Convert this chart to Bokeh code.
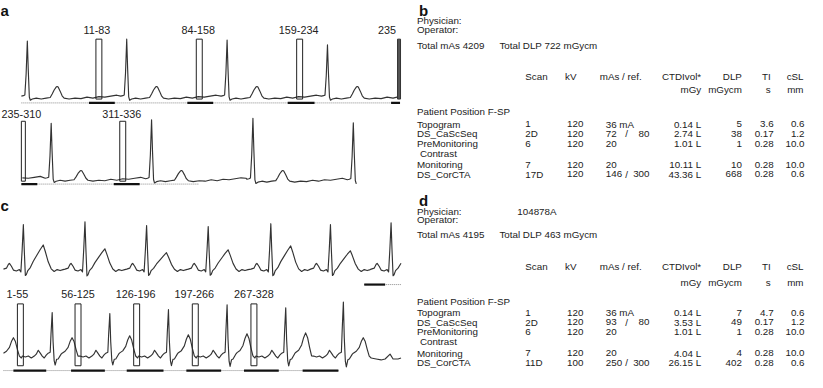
from bokeh.plotting import figure
from bokeh.models import Range1d
from bokeh.core.properties import value
from bokeh.embed import file_html
from bokeh.resources import INLINE

# ------------------------------------------------------------------
# DATA
# ------------------------------------------------------------------
# ECG strips: R-peak times (px along strip), R / T amplitudes (px)
# (a) upper strip
a1_r_x = [27, 127, 228, 329]
a1_r_amp = [58, 60, 59, 54]
a1_t_amp = [12, 12, 12, 12]
a1_base = [100, 100, 100, 100]
# (a) lower strip (first entry = preceding beat, only its tail visible)
a2_r_x = [-50, 51, 152, 254, 355]
a2_r_amp = [58, 58, 62, 64, 60]
a2_t_amp = [10, 10, 10.5, 11, 10]
a2_base = [184, 185, 185.5, 186, 186.5]
# (c) upper strip
c1_r_x = [23, 85, 147, 209, 272, 332, 393]
c1_r_amp = [47, 50, 46, 45, 48, 47, 49]
c1_t_amp = [26, 22, 18, 21, 25, 20, 20]
c1_base = [279, 279, 279, 279, 279, 279, 279]
# (c) lower strip (first entry = preceding beat, only its T wave visible)
c2_r_x = [-7, 52, 110, 169, 228, 287, 345]
c2_r_amp = [46, 46, 45, 49, 54, 51, 57]
c2_t_amp = [20, 20, 22, 23, 24, 25, 20]
c2_base = [369, 369, 369, 369, 369, 369, 369]

# beat templates: offset from R, R-fraction, T-fraction, baseline wiggle (px)
tA_dx = [-6, -4, -2.5, -1.2, 0, 0.9, 2, 3, 5, 9, 14, 19, 23, 25, 27, 29, 30, 31, 33, 35, 37, 42, 48, 54, 60, 66, 72, 78, 84, 90, 95]
tA_r = [0, 0, 0.02, 0.4, 1, 0.5, 0.02, -0.03, 0, 0, 0, 0, 0, 0, 0, 0, 0, 0, 0, 0, 0, 0, 0, 0, 0, 0, 0, 0, 0, 0, 0]
tA_t = [0, 0, 0, 0, 0, 0, 0, 0, 0, 0, 0, 0, 0.05, 0.35, 0.7, 0.95, 1, 0.95, 0.6, 0.2, 0, 0, 0, 0, 0, 0, 0, 0, 0, 0, 0]
tA_b = [1, 1.5, 1, 1, 0, 0, -1, -1.5, -2, -1, -2, -1, -1, -1, -1, -1, -1, -1, -1, -1, -1, -2, -1, -1.5, 0, -1, 0.5, 0, 1, 2, 1.5]

tC1_dx = [-20, -17, -15, -14, -12, -10, -7, -4, -2.5, -1.2, 0, 0.9, 2, 3, 4.5, 7, 10, 14, 17, 20, 22, 25, 28, 31, 34, 37, 40]
tC1_r = [0, 0, 0, 0, 0, 0, 0, 0, -0.04, 0.45, 1, 0.45, -0.12, -0.1, 0, 0, 0, 0, 0, 0, 0, 0, 0, 0, 0, 0, 0]
tC1_t = [0, 0, 0, 0, 0, 0, 0, 0, 0, 0, 0, 0, 0, 0, 0.02, 0.1, 0.35, 0.62, 0.82, 1, 0.75, 0.33, 0.05, 0, 0, 0, 0]
tC1_b = [1, 2, 6, 7, 4, 0, -1, 0.5, 0, 0, 0, 0, 0, 0, -1, 0, 0, 0, 0, 0, 0, 0, 0, -1.5, 0.5, -0.5, 0.5]

tC2_dx = [-30, -27, -24, -21, -18, -16, -14, -12, -10, -8, -6, -4, -2, -1.2, 0, 0.9, 2, 3, 4.5, 6, 9, 10, 13, 16, 18, 20, 22, 24, 26, 28, 33, 38, 42, 47, 50, 55, 58]
tC2_r = [0, 0, 0, 0, 0, 0, 0, 0, 0, 0, 0, 0, 0, 0.4, 1, 0.35, -0.08, -0.18, -0.05, 0, 0, 0, 0, 0, 0, 0, 0, 0, 0, 0, 0, 0, 0, 0, 0, 0, 0]
tC2_t = [0, 0, 0, 0, 0, 0, 0, 0, 0, 0, 0, 0, 0, 0, 0, 0, 0, 0, 0, 0, 0.1, 0.15, 0.2, 0.5, 0.8, 1, 0.8, 0.4, 0.05, 0, 0, 0, 0, 0, 0, 0, 0]
tC2_b = [1, 0, 1, -1, 1, 3, 7, 4, 1, -1, 2, 4, 5, 5, 0, 0, 0, 0, 0, -2, 1, 1, 2, 0, 0, 0, 0, 0, 0, -1, -2, -3, -2, 3, -2, -2, -1]

# acquisition windows (label, window centre, highlighted bar start/end)
a1_win_label = ["11-83", "84-158", "159-234", "235"]
a1_win_x = [99, 200, 301, 401]
a1_bar_start = [89, 188, 289, 393]
a1_bar_end = [115, 214, 316, 402]
a2_win_label = ["235-310", "311-336"]
a2_win_x = [23, 123]
a2_bar_start = [21, 114]
a2_bar_end = [37, 140]
c1_bar_start = [366]
c1_bar_end = [387]
c2_win_label = ["1-55", "56-125", "126-196", "197-266", "267-328"]
c2_win_x = [20, 78, 137, 196, 255]
c2_bar_start = [13, 71, 127, 187, 245, 304]
c2_bar_end = [46, 105, 164, 222, 280, 340]

# dose reports
row_names = ["Topogram", "DS_CaScSeq", "PreMonitoring", "Monitoring", "DS_CorCTA"]
b_physician = ""
b_total_mas = 4209
b_total_dlp = 722
b_scan = ["1", "2D", "6", "7", "17D"]
b_kv = [120, 120, 120, 120, 120]
b_mas = ["36 mA", "72", "20", "20", "146"]
b_ref = ["", "80", "", "", "300"]
b_ctdi = ["0.14", "2.74", "1.01", "10.11", "43.36"]
b_dlp = [5, 38, 1, 10, 668]
b_ti = ["3.6", "0.17", "0.28", "0.28", "0.28"]
b_csl = ["0.6", "1.2", "10.0", "10.0", "0.6"]

d_physician = "104878A"
d_total_mas = 4195
d_total_dlp = 463
d_scan = ["1", "2D", "6", "7", "11D"]
d_kv = [120, 120, 120, 120, 100]
d_mas = ["36 mA", "93", "20", "20", "250"]
d_ref = ["", "80", "", "", "300"]
d_ctdi = ["0.14", "3.53", "1.01", "4.04", "26.15"]
d_dlp = [7, 49, 1, 4, 402]
d_ti = ["4.7", "0.17", "0.28", "0.28", "0.28"]
d_csl = ["0.6", "1.2", "10.0", "10.0", "0.6"]

# ------------------------------------------------------------------
# FIGURE
# ------------------------------------------------------------------
p = figure(width=807, height=372, x_range=Range1d(0, 812), y_range=Range1d(385, 0),
           output_backend="svg", toolbar_location=None,
           x_axis_type=None, y_axis_type=None, min_border=0)
p.grid.visible = False
p.outline_line_color = None
p.background_fill_color = "white"
p.border_fill_color = "white"

FONT = value("Liberation Sans")
TXT = "#222222"
LINE = "#333333"


def add_text(xs, ys, texts, align="left", size="9.8px", style="normal", color=TXT, baseline="middle"):
    p.text(x=list(xs), y=list(ys), text=list(texts), text_font=FONT,
           text_font_size=value(size), text_font_style=style, text_align=align,
           text_baseline=baseline, text_color=color)


def build_trace(r_x, r_amp, t_amp, base, tmpl, x_start, x_end):
    dx, rr, tt, bb = tmpl
    xs, ys = [], []
    for i, r in enumerate(r_x):
        limit = r_x[i + 1] + dx[0] if i + 1 < len(r_x) else float("inf")
        for d, rv, tv, bv in zip(dx, rr, tt, bb):
            x = r + d
            if x < x_start or x > x_end or x >= limit:
                continue
            xs.append(x)
            ys.append(base[i] - (r_amp[i] * rv + t_amp[i] * tv + bv))
    return xs, ys


TA = (tA_dx, tA_r, tA_t, tA_b)
TC1 = (tC1_dx, tC1_r, tC1_t, tC1_b)
TC2 = (tC2_dx, tC2_r, tC2_t, tC2_b)

strips = [
    (a1_r_x, a1_r_amp, a1_t_amp, a1_base, TA, 21, 402),
    (a2_r_x, a2_r_amp, a2_t_amp, a2_base, TA, 21, 359),
    (c1_r_x, c1_r_amp, c1_t_amp, c1_base, TC1, 3, 403),
    (c2_r_x, c2_r_amp, c2_t_amp, c2_base, TC2, 3, 403),
]
for rx, ra, ta, bs, tm, x0, x1 in strips:
    xs, ys = build_trace(rx, ra, ta, bs, tm, x0, x1)
    p.line(xs, ys, line_color=LINE, line_width=1.15, line_join="round")

# dotted time axes and acquisition bars
dotted = [(21, 402, 106), (21, 200, 190), (366, 403, 294), (3, 340, 383)]
for xa, xb, yy in dotted:
    p.line([xa, xb], [yy, yy], line_color="#8a8a8a", line_width=1, line_dash="1 1")
for starts, ends, yy in [(a1_bar_start, a1_bar_end, 106), (a2_bar_start, a2_bar_end, 190),
                         (c1_bar_start, c1_bar_end, 294), (c2_bar_start, c2_bar_end, 383)]:
    p.segment(x0=starts, y0=[yy] * len(starts), x1=ends, y1=[yy] * len(ends),
              line_color="#111111", line_width=2.2)


# window boxes + labels
def windows(centres, widths, top, bottom, labels, label_y, aligns, label_dx):
    p.quad(left=[c - w / 2 for c, w in zip(centres, widths)],
           right=[c + w / 2 for c, w in zip(centres, widths)],
           top=[top] * len(centres), bottom=[bottom] * len(centres),
           fill_color=None, line_color="#222222", line_width=1)
    for c, lab, al, dx in zip(centres, labels, aligns, label_dx):
        add_text([c + dx], [label_y], [lab], align=al, size="10.8px")


windows(a1_win_x[:3], [6, 6, 6], 40, 102, a1_win_label[:3], 31, ["center"] * 3, [-2, -1, -1])
p.quad(left=[a1_win_x[3] - 1.5], right=[a1_win_x[3] + 1.5], top=[40], bottom=[102],
       fill_color="#555555", line_color="#333333", line_width=1)
add_text([a1_win_x[3] - 3], [31], [a1_win_label[3]], align="right", size="10.8px")
windows(a2_win_x, [4, 6], 125, 187, a2_win_label, 117, ["center", "center"], [-2, -1])
windows(c2_win_x, [6] * 5, 314, 378, c2_win_label, 304, ["center"] * 5, [-3, 0, -1, -1, 0])

# panel letters
add_text([0, 421, 0, 421], [10, 10, 212, 207], ["a", "b", "c", "d"], size="15px",
         style="bold", color="#111111", baseline="alphabetic")

# dose report tables
X_NAME, X_SCAN, X_KV, X_MAS, X_SLASH, X_REF = 419, 528, 570, 609, 630, 653
X_CTDI, X_DLP, X_TI, X_CSL = 705, 746, 778, 809


def table(top3, hdr, pos_y, rows_y, contrast_y, physician, tmas, tdlp,
          scan, kv, mas, ref, ctdi, dlp, ti, csl):
    add_text([X_NAME, X_NAME], top3[:2], ["Physician:", "Operator:"])
    if physician:
        add_text([520], [top3[0]], [physician])
    add_text([X_NAME, 502], [top3[2], top3[2]],
             ["Total mAs %d" % tmas, "Total DLP %d mGycm" % tdlp])
    add_text([X_SCAN, 568, 603], [hdr[0]] * 3, ["Scan", "kV", "mAs  /  ref."])
    add_text([X_CTDI, X_DLP, 775, 808], [hdr[0]] * 4, ["CTDIvol*", "DLP", "TI", "cSL"], align="right")
    add_text([X_CTDI, X_DLP, 775, 808], [hdr[1]] * 4, ["mGy", "mGycm", "s", "mm"], align="right")
    add_text([X_NAME], [pos_y], ["Patient Position F-SP"])
    add_text([X_NAME] * len(row_names), rows_y, row_names)
    add_text([422], [contrast_y], ["Contrast"])
    add_text([X_SCAN] * len(scan), rows_y, scan)
    add_text([X_KV] * len(kv), rows_y, [str(v) for v in kv])
    add_text([X_MAS] * len(mas), rows_y, mas)
    ry = [y for y, r in zip(rows_y, ref) if r]
    add_text([X_SLASH] * len(ry), ry, ["/"] * len(ry), align="center")
    add_text([X_REF] * len(ry), ry, [r for r in ref if r], align="right")
    add_text([X_CTDI] * len(ctdi), rows_y, [c + " L" for c in ctdi], align="right")
    add_text([X_DLP] * len(dlp), rows_y, [str(v) for v in dlp], align="right")
    add_text([X_TI] * len(ti), rows_y, ti, align="right")
    add_text([X_CSL] * len(csl), rows_y, csl, align="right")


table([21, 30, 46.5], [79, 92], 115, [128, 138, 148, 170, 180], 158, b_physician,
      b_total_mas, b_total_dlp, b_scan, b_kv, b_mas, b_ref, b_ctdi, b_dlp, b_ti, b_csl)
table([218, 227, 242], [275, 292], 312, [323, 333, 343, 365, 375], 353, d_physician,
      d_total_mas, d_total_dlp, d_scan, d_kv, d_mas, d_ref, d_ctdi, d_dlp, d_ti, d_csl)

open("out.html", "w").write(file_html(p, INLINE))
